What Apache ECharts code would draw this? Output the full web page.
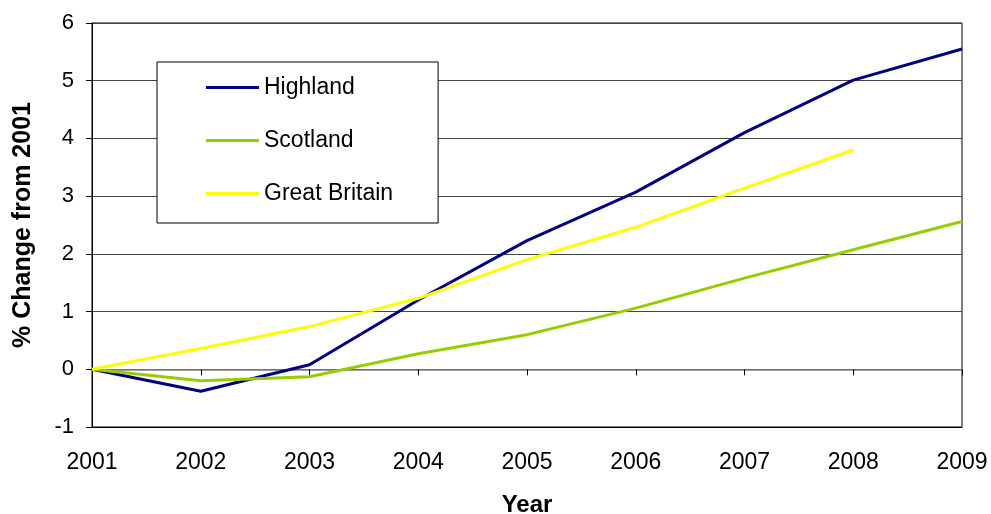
<!DOCTYPE html>
<html>
<head>
<meta charset="utf-8">
<script src="https://cdn.jsdelivr.net/npm/echarts@6/dist/echarts.min.js"></script>
<style>
  html, body { margin: 0; padding: 0; background: #fff; }
  #chart { width: 991px; height: 514px; }
</style>
</head>
<body>
<div id="chart"></div>
<script>
// Population change relative to 2001 (%)
var years = ['2001', '2002', '2003', '2004', '2005', '2006', '2007', '2008', '2009'];
var highland = [0, -0.38, 0.08, 1.2, 2.23, 3.07, 4.1, 5.01, 5.55];
var scotland = [0, -0.2, -0.13, 0.27, 0.6, 1.06, 1.58, 2.07, 2.56];
var greatBritain = [0, 0.36, 0.74, 1.23, 1.9, 2.46, 3.14, 3.8, null];
var yTicks = { min: -1, max: 6, step: 1 };

var FONT = '"Liberation Sans", Arial, sans-serif';

var chart = echarts.init(document.getElementById('chart'), null, { renderer: 'canvas' });

function lineSeries(name, data, color) {
  return {
    name: name,
    type: 'line',
    data: data,
    xAxisIndex: 0,
    symbol: 'none',
    showSymbol: false,
    lineStyle: { color: color, width: 3 },
    itemStyle: { color: color },
    connectNulls: false,
    z: 3
  };
}

chart.setOption({
  animation: false,
  backgroundColor: '#fff',
  textStyle: { fontFamily: FONT },
  grid: {
    left: 92, right: 29, top: 23, bottom: 87,
    outerBoundsMode: 'none',
    containLabel: false,
    show: true,
    borderColor: '#000',
    borderWidth: 1,
    backgroundColor: 'transparent'
  },
  legend: {
    orient: 'vertical',
    left: 157,
    top: 62,
    icon: 'rect',
    itemWidth: 53,
    itemHeight: 3,
    itemGap: 30,
    padding: [14, 45, 18, 49],
    backgroundColor: '#fff',
    borderColor: '#000',
    borderWidth: 1,
    textStyle: { fontFamily: FONT, fontSize: 23, color: '#000', lineHeight: 22 },
    data: ['Highland', 'Scotland', 'Great Britain'],
    z: 10
  },
  xAxis: [
    {
      type: 'category',
      data: years,
      boundaryGap: false,
      position: 'bottom',
      axisLine: { onZero: false, lineStyle: { color: '#000', width: 1 } },
      axisTick: { show: false },
      axisLabel: { fontFamily: FONT, fontSize: 23, color: '#000', margin: 24 },
      splitLine: { show: false },
      name: 'Year',
      nameLocation: 'middle',
      nameGap: 66,
      nameTextStyle: { fontFamily: FONT, fontSize: 24, fontWeight: 'bold', color: '#000' }
    },
    {
      type: 'category',
      data: years,
      boundaryGap: false,
      position: 'bottom',
      axisLine: { onZero: true, onZeroAxisIndex: 0, lineStyle: { color: '#808080', width: 1.5 } },
      axisTick: { show: true, inside: false, length: 6, lineStyle: { color: '#000', width: 1 } },
      axisLabel: { show: false },
      splitLine: { show: false },
      z: 2
    }
  ],
  yAxis: {
    type: 'value',
    min: yTicks.min,
    max: yTicks.max,
    interval: yTicks.step,
    axisLine: { show: true, lineStyle: { color: '#000', width: 1 } },
    axisTick: { show: true, inside: false, length: 6, lineStyle: { color: '#000' } },
    axisLabel: { fontFamily: FONT, fontSize: 22, color: '#000', margin: 18 },
    splitLine: { show: true, lineStyle: { color: '#444', width: 1 } },
    name: '% Change from 2001',
    nameLocation: 'middle',
    nameGap: 56,
    nameRotate: 90,
    nameTextStyle: { fontFamily: FONT, fontSize: 25, fontWeight: 'bold', color: '#000' }
  },
  series: [
    lineSeries('Highland', highland, '#000080'),
    lineSeries('Scotland', scotland, '#99CC00'),
    lineSeries('Great Britain', greatBritain, '#FFFF00')
  ]
});
</script>
</body>
</html>
